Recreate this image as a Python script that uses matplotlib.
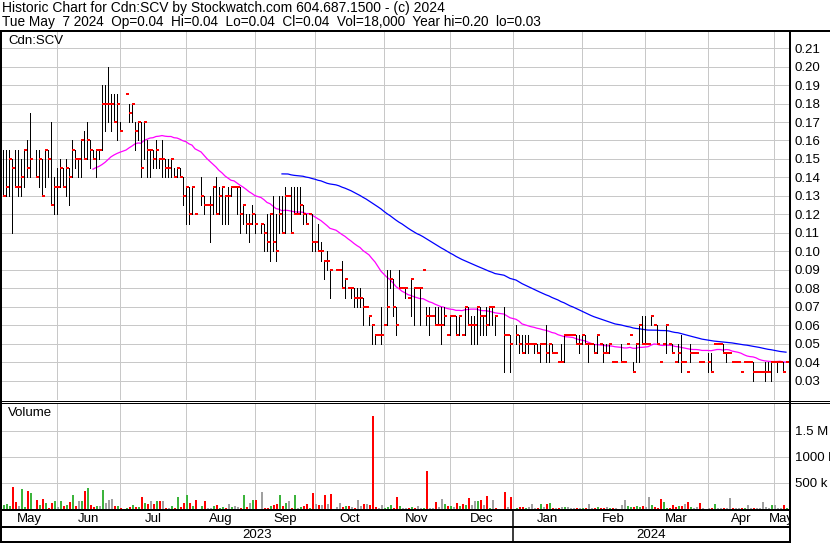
import numpy as np
import pandas as pd
import matplotlib
matplotlib.use("Agg")
import matplotlib.pyplot as plt
from matplotlib.lines import Line2D
from matplotlib.transforms import blended_transform_factory

plt.rcParams['font.family'] = ['Liberation Sans', 'DejaVu Sans']
plt.rcParams['font.size'] = 9.5

N = None  # market holiday, no bar

# every weekday on the chart (holidays are left blank in the data)
dates = pd.bdate_range('2023-05-08', '2024-05-07')

# daily high / low / close in cents, one row per month (May 2023 .. May 2024)
high = [
    15.5, 15.5, 15.5, 15, 15.5, 15.5, 15, 15.5, 16, 17.5, N, 15.5, 15.5, 15, 15.5, 15.5, 17, 14,
    14.5, 15, 14.5, 15, 14.5, 16, 15.5, 15, 16, 16.5, 17, 16, 15.5, 15.5, 15.5, 19, 19, 20, 18.5, 18.5, 18.5, 17,
    N, 18.5, 18, 18, 17, 17, 17, 17, 16, 15.5, 15.5, 16, 15, 16, 15, 15, 15, 14.5, 14.5, 14.5, 14,
    13.5, 13.5, 13.5, 12, N, 14, 13, 12.5, 13, 13.5, 14, 13.5, 13.5, 13, 13.5, 13.5, 13.5, 13.5, 13.5, 12.5, 12, 12, 12.5,
    12, N, 11.5, 11.5, 12, 12, 13, 12, 13, 13, 13.5, 13, 13.5, 13.5, 13.5, 13.5, 12.5, 12, 12, 12, 10.5,
    11.5, 10.5, 9.5, 10, 9, N, 9, 9, 9.5, 8.5, 8, 8, 8, 8, 8, 7.5, 7, 6.5, 6, 5.5, 5.5, 7,
    6, 9, 9, 8.5, 7, 9, 8, 8, 7.5, 8.5, 8, 8, 8, 9, 7, 7, 6.5, 7, 7, 7, 7, 5.5,
    6.5, 6.5, 6.5, 6.5, 5.5, 7, 7, 6.5, 6.5, 7, 7, 6.5, 7, 7, 7, 6.5, N, N, 7, 5.5, 5.5,
    N, 6, 5.5, 5.5, 5.5, 5.5, 5, 5, 5, 5, 5, 6, 5, 5, 4.5, 4, 5, 5.5, 5.5, 5.5, 5.5, 5.5, 5.5,
    5.5, 5.5, 5, 5, 5, 5.5, 5, 5, 5, 5, 4, 4, N, 5, 4, 5, 5.5, 4, 5, 6, 6.5,
    6.5, 5, 6.5, 6, 6, 4, 5, 6, 5, 5, 4, 5, 5.5, 4, 3.5, 5, 4.5, 4.5, 4, 4, N,
    4.5, 4.5, 5, 5, 5, 5, 4.5, 4.5, 4, 4, 4, 3.5, 4, 4, 4, 4, 3.5, 3.5, 3.5, 4, 4, 4,
    4, 4, 4, 4, 4,
]
low = [
    13, 13, 13, 11, 13.5, 13, 13, 13.5, 14, 14, N, 14, 13.5, 13, 13.5, 14, 12.5, 12,
    12, 13.5, 13.5, 13, 12.5, 14, 14.5, 14, 14, 15, 15, 14.5, 15, 14, 15, 15.5, 16.5, 17, 16.5, 17, 16, 16.5,
    N, 18.5, 17, 17, 15.5, 16, 14, 15, 14, 14, 14.5, 14.5, 14.5, 14, 14, 14, 14, 14, 14, 14, 12.5,
    11.5, 11.5, 12, 12, N, 12.5, 12, 12.5, 10.5, 12, 12, 12, 11.5, 11.5, 11.5, 13, 13.5, 12, 11, 11.5, 11, 10.5, 11.5,
    11, N, 11, 10, 10, 9.5, 10, 9.5, 11, 11, 11, 13, 11, 12, 12, 12, 11.5, 11.5, 12, 10, 10,
    10, 9.5, 8.5, 9, 7.5, N, 9, 9, 8, 7.5, 8, 7.5, 7, 7, 7, 6, 7, 6, 5, 5, 5.5, 5,
    6, 6, 8, 6.5, 5.5, 8, 8, 7.5, 7.5, 6.5, 6, 8, 6, 9, 6, 5.5, 6.5, 6, 6, 5, 6, 5.5,
    5.5, 6.5, 5.5, 5.5, 5.5, 5.5, 6, 5, 5, 5, 5.5, 5.5, 5.5, 6, 6, 5.5, N, N, 3.5, 5.5, 3.5,
    N, 5, 4.5, 4.5, 4.5, 4.5, 5, 4.5, 4.5, 4, 5, 4, 4, 4.5, 4.5, 4, 4, 4, 5.5, 5.5, 5.5, 5, 4.5,
    5, 5, 4, 5, 4.5, 4.5, 5, 4, 4.5, 4.5, 4, 4, N, 4, 4, 5, 5.5, 3.5, 4, 4, 5,
    5, 5, 6, 6, 5, 4, 5, 4.5, 5, 4.5, 4, 4, 3.5, 4, 3.5, 4, 4.5, 4.5, 4, 4, N,
    3.5, 3.5, 5, 5, 5, 4.5, 4, 4.5, 4, 4, 4, 3.5, 4, 4, 4, 3, 3.5, 3.5, 3.5, 3, 3.5, 3,
    4, 3.5, 4, 3.5, 4,
]
close = [
    13, 13.5, 15, 14.5, 13.5, 13.5, 14, 15.5, 14.5, 15, N, 14, 15, 13, 15.5, 15, 12.5, 13.5,
    13.5, 14.5, 13.5, 14.5, 14, 15.5, 15, 15, 16, 15, 16, 15.5, 15, 15.5, 15.5, 18, 18, 18, 18, 17, 18, 16.5,
    N, 18.5, 17.5, 18, 16.5, 17, 14.5, 17, 15.5, 15.5, 15, 15.5, 15, 15, 14.5, 14.5, 15, 14, 14.5, 14, 13,
    13.5, 12, 13.5, 12, N, 13, 12.5, 12.5, 12.5, 13.5, 12, 13, 13.5, 13, 13, 13.5, 13.5, 13.5, 12, 12.5, 11.5, 11.5, 12,
    11.5, N, 11.5, 11, 10.5, 12, 10.5, 10, 12, 11, 13, 13, 11, 12, 12, 12.5, 12, 11.5, 12, 10.5, 10.5,
    10, 10, 9.5, 9.5, 9, N, 9, 9, 8, 8.5, 8, 8, 7.5, 7.5, 7.5, 7, 7, 6.5, 6, 5.5, 5.5, 5.5,
    6, 7, 8.5, 7, 6, 8, 8, 8, 7.5, 8.5, 8, 8, 8, 9, 6.5, 6.5, 6.5, 6, 6, 6, 6.5, 5.5,
    6.5, 6.5, 5.5, 6.5, 5.5, 7, 6, 6, 6, 7, 6.5, 6.5, 6, 7, 7, 6.5, N, N, 5.5, 5.5, 5,
    N, 5.5, 5, 4.5, 5, 5, 5, 5, 4.5, 5, 5, 4.5, 5, 4.5, 4.5, 4, 4, 5.5, 5.5, 5.5, 5.5, 5, 5,
    5.5, 5, 5, 5, 4.5, 5.5, 5, 4.5, 4.5, 5, 4, 4, N, 4, 4, 5, 5.5, 3.5, 5, 6, 5,
    5, 5, 6.5, 6, 5, 4, 5, 6, 5, 4.5, 4, 4.5, 4, 4, 3.5, 4.5, 4.5, 4.5, 4, 4, N,
    4, 3.5, 5, 5, 5, 4.5, 4.5, 4.5, 4, 4, 4, 3.5, 4, 4, 4, 3.5, 3.5, 3.5, 3.5, 3.5, 3.5, 4,
    4, 4, 4, 3.5, 4,
]
# daily volume in thousands of shares
volume = [
    80, 100, 60, 430, 140, 65, 390, 45, 350, 300, 0, 180, 80, 200, 120, 20, 110, 160,
    30, 160, 65, 80, 140, 260, 65, 160, 160, 350, 410, 80, 30, 65, 50, 370, 120, 180, 200, 65, 65, 25,
    0, 25, 45, 80, 45, 30, 240, 120, 100, 160, 100, 160, 150, 160, 25, 25, 65, 25, 240, 45, 120,
    260, 120, 65, 180, 0, 65, 160, 25, 25, 65, 80, 25, 45, 25, 100, 45, 65, 45, 25, 275, 45, 120, 180,
    180, 0, 330, 25, 25, 65, 80, 100, 260, 65, 120, 160, 25, 260, 25, 45, 65, 100, 10, 315, 100,
    80, 80, 260, 100, 295, 0, 45, 120, 45, 65, 65, 45, 10, 180, 65, 100, 100, 80, 1780, 45, 25, 80,
    25, 45, 80, 25, 240, 65, 10, 10, 25, 30, 20, 60, 20, 25, 740, 20, 10, 130, 40, 200, 100, 60,
    65, 30, 120, 65, 100, 83, 220, 83, 160, 160, 180, 83, 256, 25, 180, 20, 0, 0, 333, 45, 240,
    0, 25, 45, 45, 10, 45, 100, 25, 10, 100, 45, 100, 120, 10, 10, 25, 45, 45, 45, 25, 10, 10, 25,
    25, 25, 100, 25, 25, 45, 25, 25, 45, 25, 25, 25, 0, 83, 180, 65, 45, 45, 65, 45, 65,
    45, 240, 83, 45, 25, 200, 140, 10, 25, 83, 45, 65, 65, 90, 140, 45, 25, 45, 120, 25, 0,
    25, 25, 100, 10, 25, 25, 10, 220, 25, 25, 10, 10, 25, 83, 25, 10, 10, 10, 140, 45, 25, 83,
    83, 25, 10, 83, 18,
]

price_ticks = [0.03, 0.04, 0.05, 0.06, 0.07, 0.08, 0.09, 0.10, 0.11, 0.12,
               0.13, 0.14, 0.15, 0.16, 0.17, 0.18, 0.19, 0.20, 0.21]
vol_ticks = [500e3, 1000e3, 1500e3]
vol_labels = ['500 k', '1000 k', '1.5 M']

title1 = 'Historic Chart for Cdn:SCV by Stockwatch.com 604.687.1500 - (c) 2024'
title2 = ('Tue May  7 2024  Op=0.04  Hi=0.04  Lo=0.04  Cl=0.04  '
          'Vol=18,000  Year hi=0.20  lo=0.03')

GRID = '#c8c8c8'
W, H = 830, 543
PX = 0.72  # one pixel in points at 100 dpi


def box(x0, y0, x1, y1):
    return [x0 / W, 1 - y1 / H, (x1 - x0) / W, (y1 - y0) / H]


def fline(xs, ys, lw):
    fig.add_artist(Line2D([v / W for v in xs], [1 - v / H for v in ys],
                          color='black', lw=lw, solid_capstyle='butt'))


x = np.arange(len(dates))
hi = np.array(high, float) / 100
lo = np.array(low, float) / 100
cl = np.array(close, float) / 100
vol = np.array(volume, float) * 1000

# month boundaries: last weekday on or before the 1st of each month
month_starts = pd.date_range('2023-05-01', '2024-05-01', freq='MS')
grid_idx = dates.searchsorted(month_starts[1:], side='right') - 1
xl = (-0.33, len(dates))

fig = plt.figure(figsize=(8.3, 5.43), dpi=100)
ax = fig.add_axes(box(2, 31, 789, 400))
axv = fig.add_axes(box(2, 403, 789, 509))
axm = fig.add_axes(box(2, 510, 789, 526))
axy = fig.add_axes(box(2, 527, 789, 542))

for a in (ax, axv, axm, axy):
    a.set_xlim(*xl)
    for sp in a.spines.values():
        sp.set_visible(False)

# ---- price panel
ax.set_ylim(0.0197, 0.2192)
ax.set_xticks(grid_idx)
ax.set_yticks(price_ticks)
ax.set_yticklabels([f'{t:.2f}' for t in price_ticks])
ax.yaxis.tick_right()
ax.tick_params(axis='y', length=0, pad=4, labelsize=9.5)
ax.tick_params(axis='x', length=0, labelbottom=False)
ax.grid(True, color=GRID, lw=PX)
ax.set_axisbelow(True)

ok = ~np.isnan(cl)
rng = ok & (hi > lo)
ax.vlines(x[rng], lo[rng], hi[rng], color='black', lw=PX,
          antialiased=False, zorder=3)
ax.hlines(cl[ok], x[ok] - 0.12, x[ok] + 0.85, color='red', lw=2 * PX,
          antialiased=False, zorder=4)

s = pd.Series(cl, index=x).dropna()
ma30 = s.rolling(30).mean().dropna()
ma90 = s.rolling(90).mean().dropna()
ax.plot(ma30.index, ma30.values, color='#ff00ff', lw=0.9, zorder=2)
ax.plot(ma90.index, ma90.values, color='#0000ff', lw=0.9, zorder=2)

# ---- volume panel
chg = s.diff()
cols = np.where(chg > 0, '#3cb43c', np.where(chg < 0, '#ff0000', '#a0a0a0'))
cols[0] = '#3cb43c'
axv.bar(chg.index - 0.15, vol[chg.index], width=0.67, align='edge',
        color=cols, lw=0, zorder=3)
axv.set_ylim(0, 2.038e6)
axv.set_xticks(grid_idx)
axv.set_yticks(vol_ticks)
axv.set_yticklabels(vol_labels)
axv.yaxis.tick_right()
axv.tick_params(axis='y', length=0, pad=4, labelsize=9.5)
axv.tick_params(axis='x', length=0, labelbottom=False)
axv.grid(True, color=GRID, lw=PX)
axv.set_axisbelow(True)

# ---- month and year rows
bounds = np.concatenate([[xl[0]], grid_idx, [xl[1]]])
tm = blended_transform_factory(axm.transData, axm.transAxes)
for a, b, m in zip(bounds[:-1], bounds[1:], month_starts):
    axm.text((a + b) / 2, 0.45, m.strftime('%b'), transform=tm,
             ha='center', va='center', clip_on=True)
jan = grid_idx[list(month_starts[1:]).index(pd.Timestamp('2024-01-01'))]
ty = blended_transform_factory(axy.transData, axy.transAxes)
axy.text((xl[0] + jan) / 2, 0.45, '2023', transform=ty, ha='center', va='center')
axy.text((jan + xl[1]) / 2, 0.45, '2024', transform=ty, ha='center', va='center')
for a in (axm, axy):
    a.set_xticks([])
    a.set_yticks([])
    a.axvline(jan, color='black', lw=1.5 * PX)

# ---- frame lines
fline([0, W], [30.5, 30.5], 2 * PX)
fline([1, 1], [31, H], 2 * PX)
fline([789.5, 789.5], [31, H], 2 * PX)
fline([0, W], [400.5, 400.5], PX)
fline([0, W], [402.5, 402.5], PX)
fline([0, 789], [509.5, 509.5], 2 * PX)
fline([0, 789], [526.5, 526.5], 2 * PX)
fline([0, 789], [542, 542], 2 * PX)

fig.text(2 / W, 1 - 8 / H, title1, ha='left', va='center', fontsize=10)
fig.text(2 / W, 1 - 22 / H, title2, ha='left', va='center', fontsize=9.8)
fig.text(8 / W, 1 - 41 / H, 'Cdn:SCV', ha='left', va='center')
fig.text(8 / W, 1 - 413 / H, 'Volume', ha='left', va='center')

fig.savefig('out.png', dpi=100)
